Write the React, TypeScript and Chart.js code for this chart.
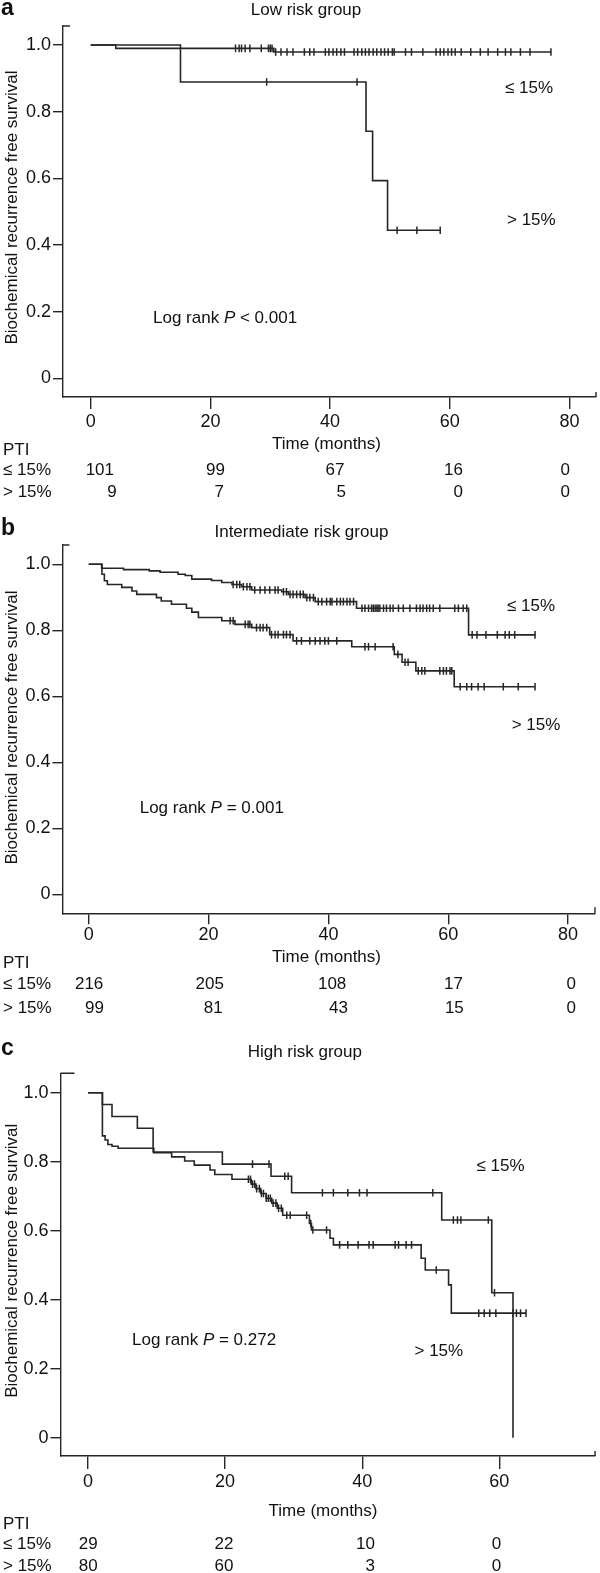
import React, { useEffect, useRef } from "react";
import { Chart, registerables } from "chart.js";

Chart.register(...registerables);

const FONT = "'Liberation Sans', Arial, Helvetica, sans-serif";
const INK = "#111111";
const LINE = "#262626";
const W = 600;
const H = 1573;

// ---------------- data ----------------
const yTitle = "Biochemical recurrence free survival";
const xTitle = "Time (months)";
const groupLabels = ["≤ 15%", "> 15%"];
const yTickValues = [0, 0.2, 0.4, 0.6, 0.8, 1.0];
const xTicksAB = [0, 20, 40, 60, 80];
const xTicksC = [0, 20, 40, 60];

// Panel a — Low risk group
const aLeTimes = [0, 4.2, 30.6, 76.9];
const aLeSurv = [1.0, 0.99, 0.979, 0.979];
const aLeCensored = [24.2, 24.8, 25.2, 25.8, 26.6, 28.5, 29.7, 30.0, 30.3, 30.9, 31.8, 32.8, 33.8, 35.7, 36.6, 37.3, 39.2, 39.8, 40.5, 41.1, 41.8, 42.4, 44.0, 44.6, 45.3, 45.9, 46.5, 47.2, 47.8, 48.5, 49.1, 49.7, 50.4, 50.7, 52.6, 53.6, 55.5, 57.7, 58.4, 59.0, 59.7, 60.3, 60.9, 61.9, 63.5, 65.1, 66.4, 68.0, 69.3, 70.2, 71.8, 73.4, 76.9];
const aGtTimes = [0, 15.0, 46.0, 47.1, 49.6, 58.4];
const aGtSurv = [1.0, 0.889, 0.741, 0.593, 0.444, 0.444];
const aGtCensored = [29.4, 44.5, 51.2, 54.5, 58.4];
const aRiskLe = [101, 99, 67, 16, 0];
const aRiskGt = [9, 7, 5, 0, 0];

// Panel b — Intermediate risk group
const bLeTimes = [0, 2.15, 5.8, 10.1, 11.9, 14.9, 16.1, 17.2, 20.5, 22.2, 23.9, 25.5, 27.2, 32.2, 33.3, 36.1, 37.8, 44.7, 63.4, 74.5];
const bLeSurv = [1.0, 0.988, 0.984, 0.98, 0.976, 0.97, 0.966, 0.955, 0.951, 0.945, 0.939, 0.932, 0.922, 0.917, 0.909, 0.899, 0.887, 0.867, 0.786, 0.786];
const bLeCensored = [24.1, 24.7, 25.2, 25.8, 26.4, 26.9, 27.7, 28.6, 29.4, 30.2, 31.1, 31.6, 32.5, 33.0, 33.6, 34.1, 34.7, 35.3, 35.8, 36.4, 36.9, 37.5, 38.3, 38.9, 39.7, 40.3, 40.6, 41.4, 42.0, 42.5, 43.1, 43.6, 44.2, 45.6, 46.1, 46.7, 47.2, 47.5, 47.8, 48.1, 48.3, 48.6, 49.2, 49.7, 50.3, 50.8, 51.7, 52.5, 53.6, 54.7, 55.3, 55.8, 56.4, 56.9, 57.5, 58.6, 61.1, 61.7, 62.5, 63.1, 64.0, 64.8, 66.3, 68.2, 69.5, 70.2, 71.1, 74.5];
const bGtTimes = [0, 2.2, 2.6, 3.1, 5.5, 7.2, 8.0, 11.3, 12.1, 13.8, 16.3, 17.2, 18.3, 22.2, 24.4, 27.2, 30.2, 34.1, 43.9, 51.0, 52.3, 54.6, 61.0, 74.5];
const bGtSurv = [1.0, 0.97, 0.95, 0.939, 0.93, 0.919, 0.909, 0.899, 0.889, 0.879, 0.867, 0.855, 0.839, 0.829, 0.818, 0.808, 0.787, 0.768, 0.75, 0.727, 0.703, 0.677, 0.629, 0.629];
const bGtCensored = [23.6, 24.1, 26.1, 26.6, 26.9, 28.0, 28.6, 29.1, 29.7, 30.5, 31.1, 31.6, 32.5, 33.0, 33.6, 34.7, 35.5, 36.9, 37.8, 38.6, 39.4, 40.0, 41.4, 46.1, 46.7, 47.8, 50.8, 51.6, 52.8, 53.3, 55.0, 55.6, 56.1, 58.6, 59.2, 59.7, 60.3, 60.6, 62.0, 63.1, 63.9, 65.0, 66.0, 69.2, 71.7, 74.5];
const bRiskLe = [216, 205, 108, 17, 0];
const bRiskGt = [99, 81, 43, 15, 0];

// Panel c — High risk group
const cLeTimes = [0, 2.1, 3.5, 7.2, 9.5, 19.6, 26.7, 29.7, 51.6, 58.9, 62.0];
const cLeSurv = [1.0, 0.966, 0.931, 0.897, 0.828, 0.793, 0.758, 0.71, 0.631, 0.42, 0];
const cLeCensored = [24.0, 26.4, 28.7, 29.2, 34.2, 35.8, 37.9, 39.6, 40.7, 50.3, 53.3, 53.9, 54.4, 58.4, 59.3];
const cGtTimes = [0, 2.1, 2.5, 2.9, 3.5, 4.4, 9.6, 12.2, 14.1, 15.5, 17.8, 18.5, 21.0, 23.8, 24.5, 25.2, 26.0, 26.8, 27.6, 28.4, 32.3, 32.6, 35.3, 35.8, 48.6, 49.2, 52.6, 53.0, 63.9];
const cGtSurv = [1.0, 0.875, 0.863, 0.85, 0.845, 0.839, 0.826, 0.814, 0.802, 0.79, 0.776, 0.763, 0.749, 0.735, 0.722, 0.708, 0.694, 0.68, 0.665, 0.645, 0.621, 0.602, 0.578, 0.559, 0.52, 0.486, 0.443, 0.361, 0.361];
const cGtCensored = [23.4, 23.7, 24.0, 24.3, 24.6, 25.0, 25.3, 25.6, 26.0, 26.3, 26.6, 27.0, 27.4, 27.8, 28.2, 29.0, 29.5, 31.9, 32.5, 32.8, 34.8, 36.7, 37.9, 39.4, 41.0, 41.6, 44.8, 45.3, 46.4, 47.2, 50.8, 57.0, 57.8, 58.6, 59.5, 62.0, 62.5, 63.1, 63.9];
const cRiskLe = [29, 22, 10, 0];
const cRiskGt = [80, 60, 3, 0];

// ---------------- layout ----------------
interface Layout {
  left: number; right: number; top: number; bottom: number;
  zeroY: number; oneY: number; zeroX: number; pxPerMonth: number;
  xTickLen: number; xTickPad: number; yTickLen: number; yTickPad: number;
  topTickLen: number; endTickLen: number;
  letterY: number; titleX: number; titleY: number; yTitleX: number; yTitleY: number;
  leX: number; leY: number; gtX: number; gtY: number; lrX: number; lrY: number;
  timeX: number; timeY: number; ptiY: number; row1Y: number; row2Y: number;
  riskRight1: number[]; riskRight2: number[];
}

interface Panel {
  letter: string; title: string; pText: string;
  le: [number[], number[], number[]];
  gt: [number[], number[], number[]];
  riskLe: number[]; riskGt: number[]; xTicks: number[];
  L: Layout;
}

const panels: Panel[] = [
  {
    letter: "a", title: "Low risk group", pText: " < 0.001",
    le: [aLeTimes, aLeSurv, aLeCensored], gt: [aGtTimes, aGtSurv, aGtCensored],
    riskLe: aRiskLe, riskGt: aRiskGt, xTicks: xTicksAB,
    L: {
      left: 63, right: 596, top: 26, bottom: 397, zeroY: 378.3, oneY: 45, zeroX: 90.7, pxPerMonth: 5.985,
      xTickLen: 12, xTickPad: 2, yTickLen: 10, yTickPad: 2, topTickLen: 7, endTickLen: 5,
      letterY: 15, titleX: 306, titleY: 14.5, yTitleX: 16.5, yTitleY: 207.5,
      leX: 505, leY: 93.4, gtX: 507, gtY: 225, lrX: 153, lrY: 322.8,
      timeX: 326.5, timeY: 449.4, ptiY: 455.4, row1Y: 475.4, row2Y: 496.8,
      riskRight1: [114, 225, 344.4, 463, 570], riskRight2: [116.7, 224, 346, 463, 570],
    },
  },
  {
    letter: "b", title: "Intermediate risk group", pText: " = 0.001",
    le: [bLeTimes, bLeSurv, bLeCensored], gt: [bGtTimes, bGtSurv, bGtCensored],
    riskLe: bRiskLe, riskGt: bRiskGt, xTicks: xTicksAB,
    L: {
      left: 62.4, right: 595, top: 545, bottom: 913.3, zeroY: 894.3, oneY: 564.3, zeroX: 88.8, pxPerMonth: 5.99,
      xTickLen: 11, xTickPad: 0, yTickLen: 10, yTickPad: 2, topTickLen: 7, endTickLen: 6,
      letterY: 535, titleX: 301.4, titleY: 537, yTitleX: 16.5, yTitleY: 727.5,
      leX: 507, leY: 611, gtX: 511.7, gtY: 730, lrX: 139.7, lrY: 812.8,
      timeX: 326.5, timeY: 962, ptiY: 968.4, row1Y: 989.4, row2Y: 1013.4,
      riskRight1: [103.3, 223.9, 346.3, 463, 576], riskRight2: [104, 222.7, 348, 463.8, 576],
    },
  },
  {
    letter: "c", title: "High risk group", pText: " = 0.272",
    le: [cLeTimes, cLeSurv, cLeCensored], gt: [cGtTimes, cGtSurv, cGtCensored],
    riskLe: cRiskLe, riskGt: cRiskGt, xTicks: xTicksC,
    L: {
      left: 60.5, right: 595, top: 1073.3, bottom: 1456, zeroY: 1437.7, oneY: 1092.7, zeroX: 88, pxPerMonth: 6.855,
      xTickLen: 13, xTickPad: 2, yTickLen: 10, yTickPad: 2, topTickLen: 14, endTickLen: 5,
      letterY: 1055, titleX: 304.8, titleY: 1057, yTitleX: 16.5, yTitleY: 1260.8,
      leX: 476.5, leY: 1171, gtX: 414.5, gtY: 1356, lrX: 132, lrY: 1345.4,
      timeX: 323, timeY: 1516, ptiY: 1528.8, row1Y: 1548.8, row2Y: 1571,
      riskRight1: [97.6, 233.4, 375, 501.3], riskRight2: [97.6, 233.4, 375, 501.3],
    },
  },
];

const Y_W = 60;
const X_H = 40;

function survAt(times: number[], surv: number[], t: number): number {
  let s = surv[0];
  for (let i = 0; i < times.length; i++) if (times[i] <= t + 1e-9) s = surv[i];
  return s;
}

function curveData(times: number[], surv: number[]) {
  return times.map((t, i) => ({ x: t, y: surv[i] }));
}

function censorData(times: number[], surv: number[], cens: number[]) {
  return cens.map((t) => ({ x: t, y: survAt(times, surv, t) }));
}

function textPlugin(p: Panel) {
  return {
    id: "panelText" + p.letter,
    afterDraw(chart: any) {
      const ctx: CanvasRenderingContext2D = chart.ctx;
      const L = p.L;
      ctx.save();
      ctx.strokeStyle = LINE;
      ctx.lineWidth = 1.4;
      ctx.beginPath();
      ctx.moveTo(L.left, L.top);
      ctx.lineTo(L.left + L.topTickLen, L.top);
      ctx.moveTo(L.right, L.bottom);
      ctx.lineTo(L.right, L.bottom - L.endTickLen);
      ctx.stroke();

      ctx.fillStyle = INK;
      ctx.textBaseline = "alphabetic";
      ctx.textAlign = "left";
      ctx.font = `bold 23px ${FONT}`;
      ctx.fillText(p.letter, 1, L.letterY);

      ctx.font = `17px ${FONT}`;
      ctx.textAlign = "center";
      ctx.fillText(p.title, L.titleX, L.titleY);
      ctx.fillText(xTitle, L.timeX, L.timeY);

      ctx.save();
      ctx.translate(L.yTitleX, L.yTitleY);
      ctx.rotate(-Math.PI / 2);
      ctx.textAlign = "center";
      ctx.fillText(yTitle, 0, 0);
      ctx.restore();

      ctx.textAlign = "left";
      ctx.fillText(groupLabels[0], L.leX, L.leY);
      ctx.fillText(groupLabels[1], L.gtX, L.gtY);

      // log rank text with italic P
      let x = L.lrX;
      const a = "Log rank ";
      ctx.fillText(a, x, L.lrY);
      x += ctx.measureText(a).width;
      ctx.font = `italic 17px ${FONT}`;
      ctx.fillText("P", x, L.lrY);
      x += ctx.measureText("P").width;
      ctx.font = `17px ${FONT}`;
      ctx.fillText(p.pText, x, L.lrY);

      // number at risk table
      ctx.fillText("PTI", 3, L.ptiY);
      ctx.fillText(groupLabels[0], 3, L.row1Y);
      ctx.fillText(groupLabels[1], 3, L.row2Y);
      ctx.textAlign = "right";
      p.riskLe.forEach((n, i) => ctx.fillText(String(n), L.riskRight1[i], L.row1Y));
      p.riskGt.forEach((n, i) => ctx.fillText(String(n), L.riskRight2[i], L.row2Y));
      ctx.restore();
    },
  };
}

function makeChart(canvas: HTMLCanvasElement, p: Panel) {
  const L = p.L;
  const range = L.zeroY - L.oneY;
  const yMin = -(L.bottom - L.zeroY) / range;
  const yMax = 1 + (L.oneY - L.top) / range;
  const xMin = (L.left - L.zeroX) / L.pxPerMonth;
  const xMax = (L.right - L.zeroX) / L.pxPerMonth;

  const lineDs = (times: number[], surv: number[]) => ({
    data: curveData(times, surv),
    borderColor: LINE,
    borderWidth: 1.6,
    pointRadius: 0,
    pointHoverRadius: 0,
    stepped: true,
    fill: false,
    tension: 0,
  });
  const censDs = (times: number[], surv: number[], cens: number[]) => ({
    data: censorData(times, surv, cens),
    showLine: false,
    borderColor: LINE,
    pointStyle: "line",
    pointRotation: 90,
    pointRadius: 3.8,
    pointHoverRadius: 3.8,
    pointBorderColor: LINE,
    pointBorderWidth: 1.5,
  });

  return new Chart(canvas, {
    type: "line",
    data: {
      datasets: [
        lineDs(p.le[0], p.le[1]),
        lineDs(p.gt[0], p.gt[1]),
        censDs(p.le[0], p.le[1], p.le[2]),
        censDs(p.gt[0], p.gt[1], p.gt[2]),
      ] as any,
    },
    options: {
      responsive: false,
      maintainAspectRatio: false,
      animation: false,
      devicePixelRatio: 1,
      events: [],
      layout: {
        autoPadding: false,
        padding: { left: L.left - Y_W, right: W - L.right, top: L.top, bottom: H - L.bottom - X_H },
      },
      plugins: { legend: { display: false }, tooltip: { enabled: false }, title: { display: false } },
      scales: {
        x: {
          type: "linear",
          min: xMin,
          max: xMax,
          afterBuildTicks: (s: any) => { s.ticks = p.xTicks.map((v) => ({ value: v })); },
          afterFit: (s: any) => { s.height = X_H; s.paddingLeft = 0; s.paddingRight = 0; },
          ticks: {
            autoSkip: false, maxRotation: 0, minRotation: 0, padding: L.xTickPad,
            color: INK, font: { family: FONT, size: 18 },
            callback: (v: any) => String(v),
          },
          grid: { display: true, drawOnChartArea: false, drawTicks: true, tickLength: L.xTickLen, color: LINE, lineWidth: 1.4 },
          border: { display: true, color: LINE, width: 1.4 },
        },
        y: {
          type: "linear",
          min: yMin,
          max: yMax,
          afterBuildTicks: (s: any) => { s.ticks = yTickValues.map((v) => ({ value: v })); },
          afterFit: (s: any) => { s.width = Y_W; s.paddingTop = 0; s.paddingBottom = 0; },
          ticks: {
            autoSkip: false, padding: L.yTickPad, color: INK, font: { family: FONT, size: 18 },
            callback: (v: any) => (Number(v) === 0 ? "0" : Number(v).toFixed(1)),
          },
          grid: { display: true, drawOnChartArea: false, drawTicks: true, tickLength: L.yTickLen, color: LINE, lineWidth: 1.4 },
          border: { display: true, color: LINE, width: 1.4 },
        },
      },
    } as any,
    plugins: [textPlugin(p)],
  });
}

export default function App() {
  const r0 = useRef<HTMLCanvasElement>(null);
  const r1 = useRef<HTMLCanvasElement>(null);
  const r2 = useRef<HTMLCanvasElement>(null);

  useEffect(() => {
    const refs = [r0, r1, r2];
    const charts = panels.map((p, i) => makeChart(refs[i].current as HTMLCanvasElement, p));
    return () => charts.forEach((c) => c.destroy());
  }, []);

  const cs: React.CSSProperties = { position: "absolute", left: 0, top: 0, width: W, height: H };
  return (
    <div style={{ position: "absolute", left: 0, top: 0, width: W, height: H, background: "#fff", overflow: "hidden" }}>
      <canvas ref={r0} width={W} height={H} style={cs} />
      <canvas ref={r1} width={W} height={H} style={cs} />
      <canvas ref={r2} width={W} height={H} style={cs} />
    </div>
  );
}
